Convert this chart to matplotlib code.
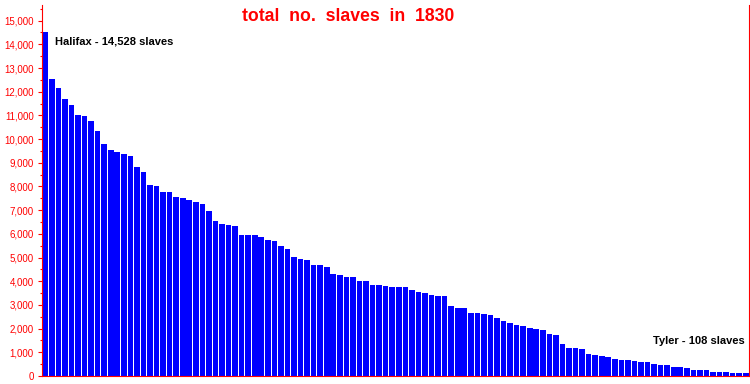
import matplotlib.pyplot as plt
import numpy as np
from matplotlib.ticker import MultipleLocator, FuncFormatter

# slave counts per county, 1830, sorted
slaves = [14528, 12530, 12150, 11690, 11430, 11010, 10970, 10760, 10340, 9790,
          9540, 9450, 9370, 9280, 8820, 8610, 8060, 8020, 7760, 7760,
          7550, 7510, 7430, 7340, 7260, 6960, 6540, 6410, 6370, 6330,
          5950, 5950, 5950, 5870, 5740, 5700, 5490, 5360, 5020, 4940,
          4890, 4680, 4680, 4600, 4300, 4260, 4180, 4180, 4010, 4010,
          3840, 3840, 3800, 3760, 3760, 3760, 3630, 3540, 3500, 3420,
          3380, 3380, 2950, 2870, 2870, 2660, 2660, 2620, 2570, 2450,
          2320, 2240, 2150, 2110, 2030, 1980, 1940, 1770, 1730, 1350,
          1180, 1180, 1140, 930, 890, 840, 800, 720, 680, 680,
          630, 590, 590, 510, 460, 460, 380, 380, 340, 250,
          250, 250, 170, 170, 170, 130, 130, 108]
top_label = "Halifax - 14,528 slaves"
bottom_label = "Tyler - 108 slaves"
title = "total  no.  slaves  in  1830"

plt.rcParams['font.family'] = ['Liberation Sans', 'DejaVu Sans']

fig = plt.figure(figsize=(7.5, 3.84), dpi=100)
ax = fig.add_axes([42/750, 8/384, 707/750, 371/384])

x = np.arange(len(slaves))
ax.bar(x, slaves, width=0.86, color='#0000ff', linewidth=0)

ax.set_xlim(-0.5, len(slaves) - 0.5)
ax.set_ylim(0, 15660)

#red frame, no top
for side in ['left', 'right', 'bottom']:
    ax.spines[side].set_color('red')
    ax.spines[side].set_linewidth(0.8)
ax.spines['top'].set_visible(False)

ax.set_xticks([])
ax.yaxis.set_major_locator(MultipleLocator(1000))
ax.yaxis.set_minor_locator(MultipleLocator(500))
ax.yaxis.set_major_formatter(FuncFormatter(lambda v, p: f"{int(v):,}"))
ax.tick_params(axis='y', which='major', colors='red', length=3, width=0.8,
               labelsize=7, pad=3)
ax.tick_params(axis='y', which='minor', colors='red', length=1.5, width=0.8)

ax.text(1.5, 14140, top_label, fontsize=8, fontweight='bold',
        ha='left', va='center')
ax.text(106.9, 1480, bottom_label, fontsize=8, fontweight='bold',
        ha='right', va='center')

fig.text(0.464, 0.956, title, color='red', fontsize=12.7, fontweight='bold',
         ha='center', va='center')

fig.savefig('out.png', dpi=100)
